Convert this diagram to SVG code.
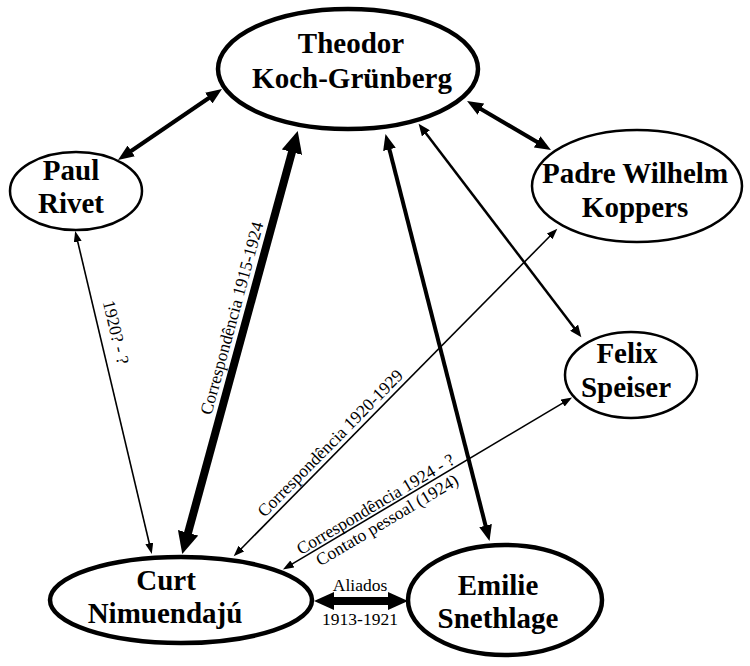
<svg xmlns="http://www.w3.org/2000/svg" width="750" height="666" viewBox="0 0 750 666">
<style>
.node{fill:#fff;stroke:#000}
.thin{stroke-width:2.5}
.thick{stroke-width:4.5}
.nl{font-family:"Liberation Serif","Times New Roman",serif;font-weight:bold;font-size:29px;fill:#000;text-anchor:middle}
.el{font-family:"Liberation Serif","Times New Roman",serif;font-size:17.5px;fill:#000;text-anchor:middle}
.c{stroke:#000;fill:none}
</style>
<defs>
<marker id="hS" markerUnits="userSpaceOnUse" markerWidth="12" markerHeight="8" refX="1" refY="4" orient="auto-start-reverse"><path d="M0,0 L11,4 L0,8 z" fill="#000"/></marker>
<marker id="hF" markerUnits="userSpaceOnUse" markerWidth="13" markerHeight="10" refX="1" refY="5" orient="auto-start-reverse"><path d="M0,0 L12,5 L0,10 z" fill="#000"/></marker>
<marker id="hM" markerUnits="userSpaceOnUse" markerWidth="17" markerHeight="13" refX="1" refY="6.5" orient="auto-start-reverse"><path d="M0,0 L16,6.5 L0,13 z" fill="#000"/></marker>
<marker id="hL" markerUnits="userSpaceOnUse" markerWidth="23" markerHeight="21" refX="1" refY="10.5" orient="auto-start-reverse"><path d="M0,0 L22,10.5 L0,21 z" fill="#000"/></marker>
<marker id="hA" markerUnits="userSpaceOnUse" markerWidth="21" markerHeight="18" refX="1" refY="9" orient="auto-start-reverse"><path d="M0,0 L20,9 L0,18 z" fill="#000"/></marker>
</defs>
<rect width="750" height="666" fill="#fff"/>
<g id="connectors">
<line class="c" x1="130.4" y1="151.5" x2="209.6" y2="97.5" stroke-width="4" marker-start="url(#hM)" marker-end="url(#hM)"/>
<line class="c" x1="480" y1="108.6" x2="538" y2="142.4" stroke-width="4" marker-start="url(#hM)" marker-end="url(#hM)"/>
<line class="c" x1="425.3" y1="132.5" x2="574.7" y2="328.5" stroke-width="2.5" marker-start="url(#hF)" marker-end="url(#hF)"/>
<line class="c" x1="292.2" y1="151.2" x2="187.8" y2="533.8" stroke-width="8" marker-start="url(#hL)" marker-end="url(#hL)"/>
<line class="c" x1="389.2" y1="148.5" x2="485.8" y2="526.5" stroke-width="4" marker-start="url(#hM)" marker-end="url(#hM)"/>
<line class="c" x1="77.5" y1="240.7" x2="149.5" y2="544.3" stroke-width="1.6" marker-start="url(#hS)" marker-end="url(#hS)"/>
<line class="c" x1="550.3" y1="235.8" x2="240.7" y2="549.2" stroke-width="1.6" marker-start="url(#hS)" marker-end="url(#hS)"/>
<line class="c" x1="563.5" y1="402.6" x2="291.5" y2="564.4" stroke-width="1.6" marker-start="url(#hS)" marker-end="url(#hS)"/>
<line class="c" x1="333" y1="601" x2="389" y2="601" stroke-width="8" marker-start="url(#hA)" marker-end="url(#hA)"/>
<text class="el" transform="translate(110.3,333.6) rotate(76.67)">1920? - ?</text>
<text class="el" transform="translate(237.4,319.8) rotate(-74.73)">Correspondência 1915-1924</text>
<text class="el" transform="translate(334.3,447.3) rotate(-45.35)">Correspondência 1920-1929</text>
<text class="el" transform="translate(378.4,509.2) rotate(-30.73)">Correspondência 1924 - ?</text>
<text class="el" transform="translate(390,525) rotate(-30.73)">Contato pessoal (1924)</text>
<text class="el" x="360" y="591">Aliados</text>
<text class="el" x="360" y="625">1913-1921</text>
</g>
<g id="theodor">
<ellipse class="node thick" cx="348" cy="69" rx="130" ry="60"/>
<text class="nl" x="351" y="53">Theodor</text>
<text class="nl" x="352" y="88">Koch-Grünberg</text>
</g>
<g id="paul">
<ellipse class="node thin" cx="76" cy="191" rx="66" ry="39"/>
<text class="nl" x="71" y="180">Paul</text>
<text class="nl" x="71" y="213">Rivet</text>
</g>
<g id="padre">
<ellipse class="node thin" cx="637" cy="186" rx="105" ry="56"/>
<text class="nl" x="635" y="183">Padre Wilhelm</text>
<text class="nl" x="635" y="217">Koppers</text>
</g>
<g id="felix">
<ellipse class="node thin" cx="631" cy="375" rx="66" ry="43"/>
<text class="nl" x="627" y="363">Felix</text>
<text class="nl" x="626" y="397">Speiser</text>
</g>
<g id="curt">
<ellipse class="node thick" cx="181" cy="600" rx="131" ry="43"/>
<text class="nl" x="166" y="590">Curt</text>
<text class="nl" x="165" y="623">Nimuendajú</text>
</g>
<g id="emilie">
<ellipse class="node thick" cx="505" cy="600" rx="97" ry="55"/>
<text class="nl" x="498" y="595">Emilie</text>
<text class="nl" x="498" y="628">Snethlage</text>
</g>
</svg>
